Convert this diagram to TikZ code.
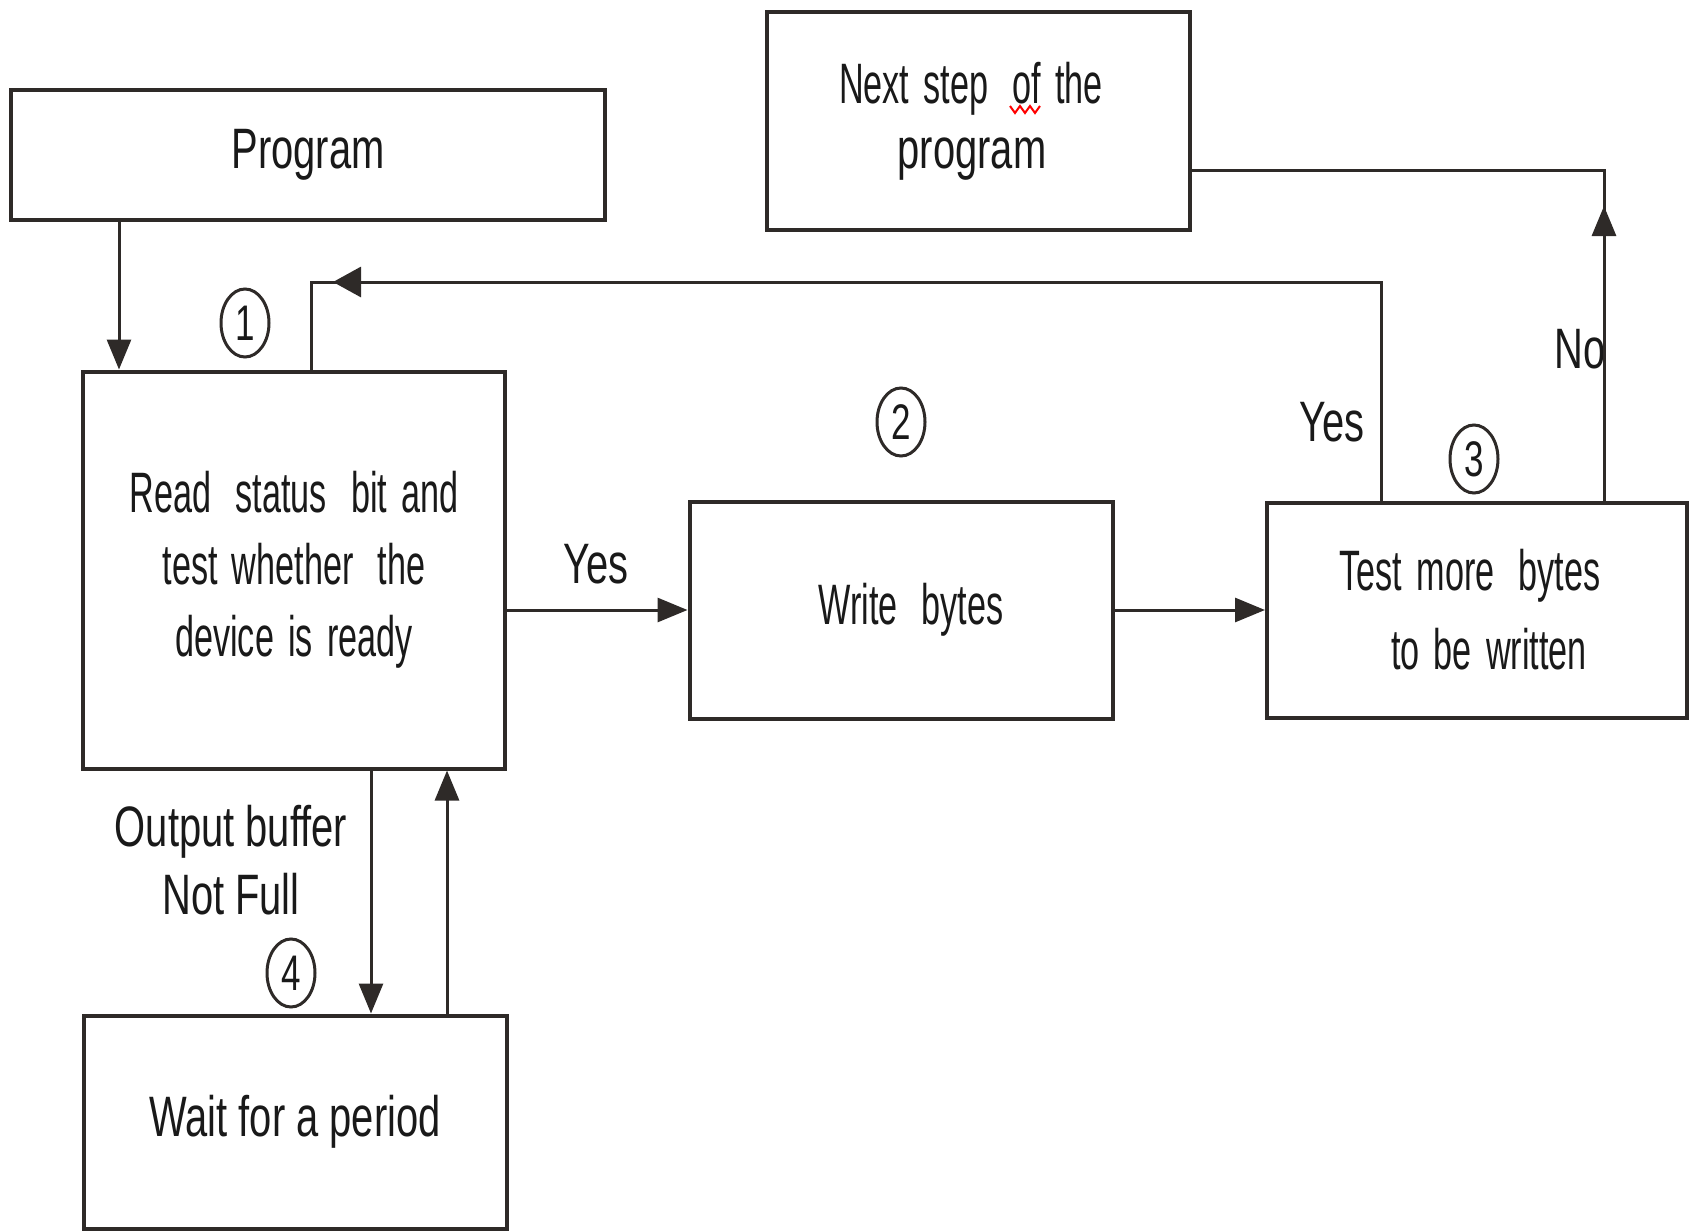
\documentclass[tikz,border=0pt]{standalone}
\usepackage{fontspec}
\setmainfont{Liberation Sans}[FakeStretch=0.70]
\newfontfamily\boxfont{Liberation Sans}[FakeStretch=0.60, WordSpace=1.5]
\newcommand\wgap{\hspace{10pt}}
\usetikzlibrary{arrows.meta,shapes.geometric}
\definecolor{linegray}{HTML}{2E2A28}

\begin{document}
\begin{tikzpicture}[x=1pt,y=-1pt,
  box/.style={draw=linegray, line width=4pt, rectangle, inner sep=0pt, align=center,
              font=\fontsize{57}{72}\selectfont, text=black!90},
  narrow/.style={font=\boxfont\fontsize{57}{#1}\selectfont},
  narrow/.default=72,
  wire/.style={draw=linegray, line width=3pt},
  arr/.style={wire, -{Triangle[length=30pt,width=24pt]}},
  tag/.style={font=\fontsize{57}{68}\selectfont, align=center, inner sep=0pt, text=black!90},
  num/.style={draw=linegray, line width=3pt, ellipse, minimum width=48pt, minimum height=68pt,
              inner sep=0pt, font=\fontsize{50}{50}\selectfont, text=black!90}]

\useasboundingbox (0,0) rectangle (1698,1231);

% process boxes
\node[box, minimum width=594pt, minimum height=130pt] (program) at (308,155) {Program};
\node[box, narrow=65, minimum width=423pt, minimum height=217pt]
  (next) at (978,121) {Next step \wgap of the\hspace*{14pt}\\\normalfont program\hspace*{12pt}};
\node[box, narrow, minimum width=422pt, minimum height=397pt] (read) at (294,570)
  {Read \wgap status \wgap bit and\\test whether \wgap the\\device is ready};
\node[box, narrow, minimum width=423pt, minimum height=217pt] (write) at (901,610)
  {\hspace*{20pt}Write \wgap bytes};
\node[box, narrow=79, minimum width=420pt, minimum height=215pt]
  (test) at (1477,610) {Test more \wgap bytes\hspace*{14pt}\\\hspace*{24pt}to be written};
\node[box, minimum width=423pt, minimum height=213pt] (wait) at (295,1122) {Wait for a period};

% step numbers
\node[num] (n1) at (245,323) {1};
\node[num] (n2) at (901,422) {2};
\node[num] (n3) at (1474,459) {3};
\node[num] (n4) at (291,973) {4};

% branch labels
\node[tag] (yes1) at (596,564) {Yes};
\node[tag] (yes2) at (1332,422) {Yes};
\node[tag] (no) at (1580,349) {No};
\node[tag] (notfull) at (231,860) {Output buffer\\Not Full};

% routing points
\coordinate (cProg) at (119,0);
\coordinate (cDown) at (371,0);
\coordinate (cUp) at (447,0);
\coordinate (fbCorner) at (311,282);
\coordinate (fbRight) at (1381,282);
\coordinate (fbTip) at (333,282);
\coordinate (noCorner) at (1604,170);
\coordinate (noTip) at (1604,206);

% connectors
\draw[arr] (program.south -| cProg) -- (read.north -| cProg);
\draw[arr] (read.east |- write.west) -- (write.west);
\draw[arr] (write.east) -- (test.west);
\draw[wire] (test.north -| fbRight) -- (fbRight) -- (fbCorner) -- (read.north -| fbCorner);
\draw[wire, -{Triangle[length=28pt,width=30pt]}] ([xshift=40pt]fbTip) -- (fbTip);
\draw[wire] (test.north -| noCorner) -- (noCorner) -- (next.east |- noCorner);
\draw[arr] ([yshift=-40pt]noTip) -- (noTip);
\draw[arr] (read.south -| cDown) -- (wait.north -| cDown);
\draw[arr] (wait.north -| cUp) -- (read.south -| cUp);

% spelling squiggle under "of"
\draw[red, line width=2pt] (1010,106) -- (1015,113) -- (1020,106) -- (1025,113) -- (1030,106) -- (1035,113) -- (1040,106);
\end{tikzpicture}
\end{document}
